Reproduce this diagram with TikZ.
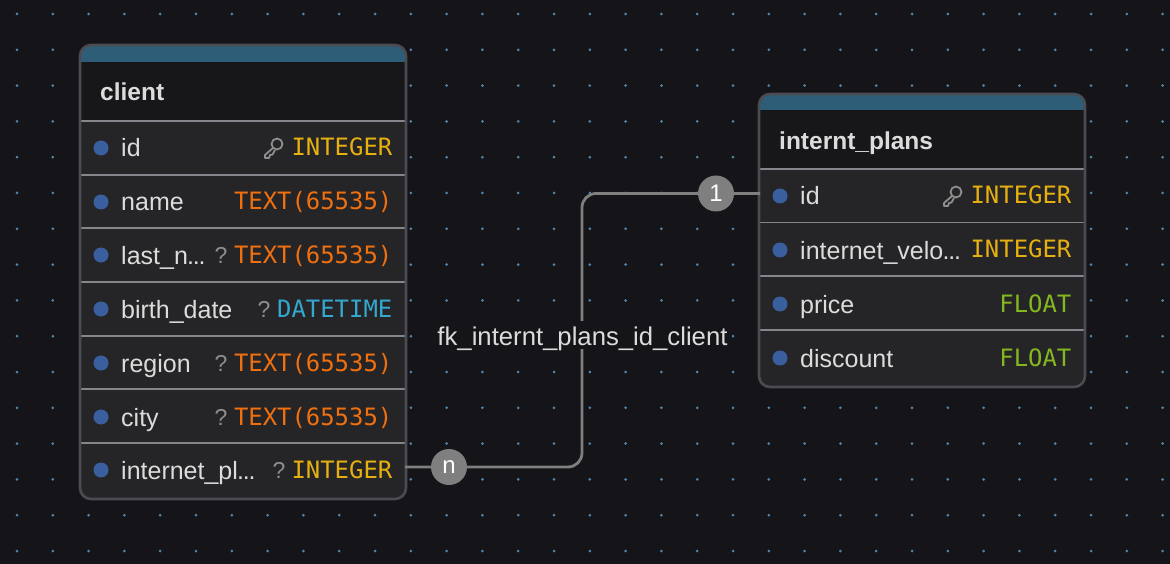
\documentclass[tikz,border=0pt]{standalone}
\usepackage{fontspec}
\setmainfont{Liberation Sans}
\newfontfamily\monof{DejaVu Sans Mono}
\definecolor{bgc}{HTML}{141419}
\definecolor{dotc}{HTML}{5283AA}
\definecolor{stripc}{HTML}{2E5D78}
\definecolor{headc}{HTML}{17171A}
\definecolor{rowc}{HTML}{252527}
\definecolor{borderc}{HTML}{4B4C52}
\definecolor{sepc}{HTML}{85868C}
\definecolor{portc}{HTML}{3A5F9E}
\definecolor{txtc}{HTML}{DCDCDC}
\definecolor{qc}{HTML}{8E8E8E}
\definecolor{intc}{HTML}{E6B010}
\definecolor{textc}{HTML}{F0700F}
\definecolor{datec}{HTML}{35A8D0}
\definecolor{floatc}{HTML}{84B81E}
\definecolor{linkc}{HTML}{7F7F7F}
\newcommand{\ellip}{\kern-0.8pt.\kern-1.2pt.\kern-1.2pt.}
\tikzset{
  x=1pt,y=-1pt,
  namet/.style={anchor=base west,inner sep=0pt,text=txtc,font=\fontsize{25}{28}\selectfont},
  titlet/.style={anchor=base west,inner sep=0pt,text=txtc,font=\fontsize{24.5}{28}\selectfont\bfseries},
  typet/.style={anchor=base east,inner sep=0pt,font=\monof\fontsize{23.9}{28}\selectfont},
  qmark/.style={anchor=base,inner sep=0pt,text=qc,font=\fontsize{23}{28}\selectfont},
  port/.style={circle,fill=portc,draw=none,minimum size=15pt,inner sep=0pt},
  card/.style={circle,fill=linkc,draw=none,minimum size=36pt,inner sep=0pt,text=white,font=\fontsize{24}{28}\selectfont},
  linkline/.style={draw=linkc,line width=2.8pt,rounded corners=14pt},
  keyicon/.style={draw=qc,line width=1.8pt,line join=round},
}
% #1 name prefix, #2 left, #3 right, #4 top, #5 bottom
\newcommand{\rowbox}[5]{%
  \fill[rowc] (#2,#4) rectangle (#3,#5);
  \draw[sepc,line width=1.4pt] (#2,#4) -- (#3,#4);
}
% #1 node name, #2 x dot, #3 y centre, #4 field, #5 type colour, #6 type, #7 right x
\newcommand{\rowtext}[7]{%
  \node[port] (#1p) at (#2,#3) {};
  \node[namet] (#1n) at (#2+20,#3+9) {#4};
  \node[typet,text=#5] (#1t) at (#7+0.5,#3+8) {#6};
}
% #1 x, #2 y centre
\newcommand{\keydraw}[2]{%
  \draw[keyicon] (#1+4,#2-4) circle[radius=5.5];
  \draw[keyicon] (#1+0.5,#2-0.5) -- (#1-8,#2+7) -- (#1-8,#2+10) -- (#1-4,#2+10) -- (#1-3,#2+7) -- (#1-0.5,#2+6.5) -- (#1+2,#2+2);
}
\begin{document}
\begin{tikzpicture}
\useasboundingbox (0,0) rectangle (1170,564);
\fill[bgc] (0,0) rectangle (1170,564);
\foreach \i in {0,...,32}{\foreach \j in {0,...,15}{
  \fill[dotc] (17+35.8*\i,14+35.8*\j) circle[radius=1.5];
}}

% client table
\begin{scope}
\clip[rounded corners=11pt] (80,45) rectangle (406,499);
\fill[headc] (80,45) rectangle (406,121);
\fill[stripc] (80,45) rectangle (406,62);
\rowbox{c}{80}{406}{121}{175}
\rowbox{c}{80}{406}{175}{228}
\rowbox{c}{80}{406}{228}{282}
\rowbox{c}{80}{406}{282}{336}
\rowbox{c}{80}{406}{336}{389}
\rowbox{c}{80}{406}{389}{443}
\rowbox{c}{80}{406}{443}{499}
\end{scope}
\node[draw=borderc,line width=2.6pt,rounded corners=11pt,minimum width=326pt,minimum height=454pt,inner sep=0pt] (client) at (243,272) {};
\node[titlet] (clienttitle) at (100,100.5) {client};
\rowtext{ca}{101}{148}{id}{intc}{INTEGER}{392}
\rowtext{cb}{101}{202}{name}{textc}{TEXT(65535)}{392}
\rowtext{cc}{101}{255}{last\_n\ellip}{textc}{TEXT(65535)}{392}
\rowtext{cd}{101}{309}{birth\_date}{datec}{DATETIME}{392}
\rowtext{ce}{101}{363}{region}{textc}{TEXT(65535)}{392}
\rowtext{cf}{101}{417}{city}{textc}{TEXT(65535)}{392}
\rowtext{cg}{101}{470}{internet\_pl\ellip}{intc}{INTEGER}{392}
\keydraw{273}{148}
\node[qmark] (qc) at (221,263) {?};
\node[qmark] (qd) at (264,317) {?};
\node[qmark] (qe) at (221,371) {?};
\node[qmark] (qf) at (221,425) {?};
\node[qmark] (qg) at (279,478) {?};

% internt_plans table
\begin{scope}
\clip[rounded corners=11pt] (759,94) rectangle (1085,387);
\fill[headc] (759,94) rectangle (1085,169);
\fill[stripc] (759,94) rectangle (1085,110);
\rowbox{p}{759}{1085}{169}{222.5}
\rowbox{p}{759}{1085}{222.5}{276}
\rowbox{p}{759}{1085}{276}{330}
\rowbox{p}{759}{1085}{330}{387}
\end{scope}
\node[draw=borderc,line width=2.6pt,rounded corners=11pt,minimum width=326pt,minimum height=293pt,inner sep=0pt] (plans) at (922,240.5) {};
\node[titlet] (planstitle) at (779,149.5) {internt\_plans};
\rowtext{pa}{780}{196}{id}{intc}{INTEGER}{1071}
\rowtext{pb}{780}{250}{internet\_velo\ellip}{intc}{INTEGER}{1071}
\rowtext{pc}{780}{304}{price}{floatc}{FLOAT}{1071}
\rowtext{pd}{780}{358}{discount}{floatc}{FLOAT}{1071}
\keydraw{952}{196}

% connector
\coordinate (from) at (405,467);
\coordinate (to) at (760,193.5);
\coordinate (bendA) at (582,467);
\coordinate (bendB) at (582,193.5);
\draw[linkline] (from) -- (bendA) -- (bendB) -- (to);
\node[anchor=base,fill=bgc,inner xsep=0pt,inner ysep=0pt,text=txtc,font=\fontsize{25.7}{28}\selectfont,text depth=4pt,text height=24pt] (fk) at (582.5,345) {fk\_internt\_plans\_id\_client};
\node[card] (cardn) at (449,467) {n};
\node[card] (cardone) at (716,193.5) {1};
\end{tikzpicture}
\end{document}
